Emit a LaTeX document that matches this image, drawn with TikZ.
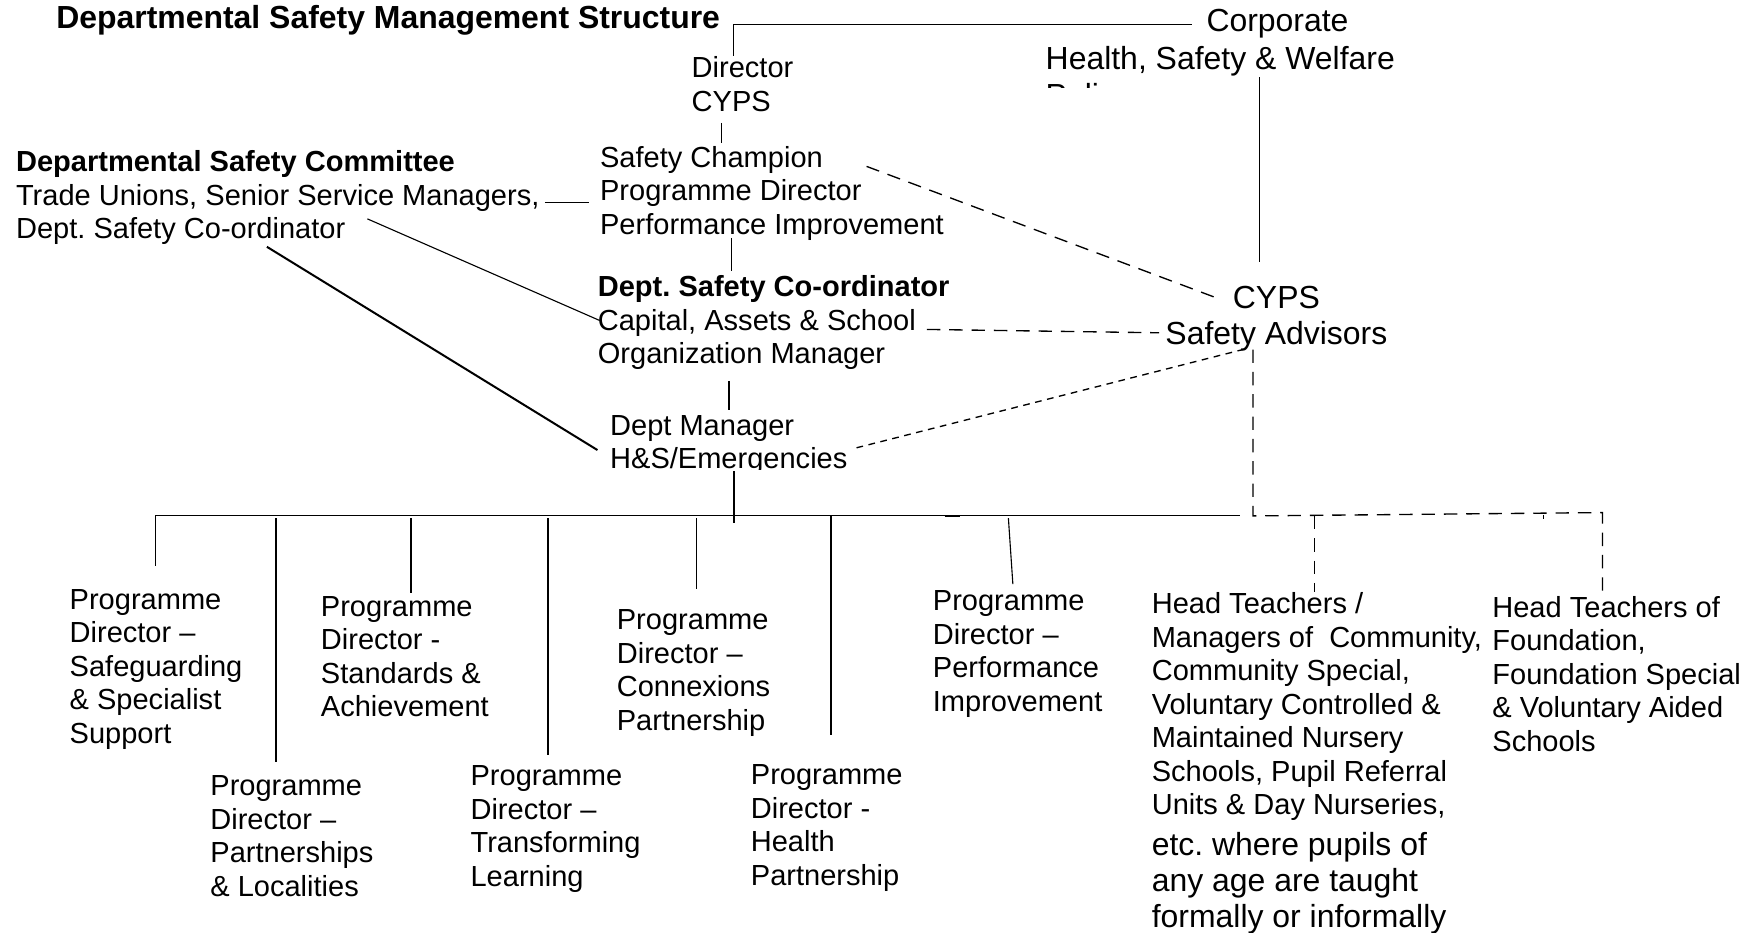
\documentclass[tikz,border=0pt]{standalone}
\usepackage{fontspec}
\setmainfont{Liberation Sans}
\frenchspacing
\begin{document}
\frenchspacing
\begin{tikzpicture}[x=0.5pt,y=-0.5pt,
  txt/.style={anchor=north west, inner sep=0pt, align=left, font=\fontsize{13}{15}\selectfont},
  big/.style={anchor=north west, inner sep=0pt, align=left, font=\fontsize{14.3}{16.5}\selectfont},
  bigc/.style={anchor=north, inner sep=0pt, align=center, font=\fontsize{14.3}{16}\selectfont},
  ttl/.style={anchor=north west, inner sep=0pt, font=\fontsize{14.3}{16}\selectfont\bfseries},
  ln/.style={line width=0.5pt},
  thk/.style={line width=0.9pt},
  dsh/.style={line width=0.6pt, dash pattern=on 6pt off 4pt},
  fdsh/.style={line width=0.6pt, dash pattern=on 3pt off 2.5pt}]
\useasboundingbox (0,0) rectangle (1568,835);

% ---- text nodes ----
\node[ttl] (title) at (50,4) {Departmental Safety Management Structure};
\node[txt] (dir) at (619,50.5) {Director\\CYPS};
\node[big] (corp) at (1080,8) {Corporate};
\begin{scope}
  \clip (900,30) rectangle (1300,78);
  \node[big] (hsw) at (936,41) {Health, Safety \& Welfare\\Policy};
\end{scope}
\node[txt] (dsc) at (14,134.5) {\textbf{Departmental Safety Committee}\\Trade Unions, Senior Service Managers,\\Dept. Safety Co-ordinator};
\node[txt] (champ) at (537,130.5) {Safety Champion\\Programme Director\\Performance Improvement};
\node[txt] (coord) at (535,246.5) {\textbf{Dept. Safety Co-ordinator}\\Capital, Assets \& School\\Organization Manager};
\node[bigc] (adv) at (1143,256) {CYPS\\Safety Advisors};
\begin{scope}
  \clip (530,360) rectangle (780,420.5);
  \node[txt] (mgr) at (546,371.5) {Dept Manager\\H\&S/Emergencies};
\end{scope}

\node[txt] (pa) at (62,527.5) {Programme\\Director \textendash\\Safeguarding\\\& Specialist\\Support};
\node[txt] (pb) at (188,694.5) {Programme\\Director \textendash\\Partnerships\\\& Localities};
\node[txt] (pc) at (287,533.5) {Programme\\Director -\\Standards \&\\Achievement};
\node[txt] (pd) at (421,685.5) {Programme\\Director \textendash\\Transforming\\Learning};
\node[txt] (pe) at (552,545.5) {Programme\\Director \textendash\\Connexions\\Partnership};
\node[txt] (pf) at (672,684.5) {Programme\\Director -\\Health\\Partnership};
\node[txt] (pg) at (835,528.5) {Programme\\Director \textendash\\Performance\\Improvement};
\node[txt] (ht) at (1031,530.5) {Head Teachers /\\Managers of\ \ Community,\\Community Special,\\Voluntary Controlled \&\\Maintained Nursery\\Schools, Pupil Referral\\Units \& Day Nurseries,};
\node[big, font=\fontsize{14.3}{16}\selectfont] (ht2) at (1031,745) {etc. where pupils of\\any age are taught\\formally or informally};
\node[txt] (hf) at (1336,533.5) {Head Teachers of\\Foundation,\\Foundation Special\\\& Voluntary Aided\\Schools};

% ---- connector end points ----
\coordinate (dirT) at (657,50);
\coordinate (corpL) at (1067,22);
\coordinate (hswB) at (1128,69);
\coordinate (advT) at (1128,235);
\coordinate (dirB) at (646,110);
\coordinate (champT) at (646,128);
\coordinate (champB) at (655,213);
\coordinate (coordT) at (655,243);
\coordinate (dscR) at (488,181);
\coordinate (champL) at (527,181);
\coordinate (dscA) at (329,196);
\coordinate (coordL) at (537,287);
\coordinate (dscB) at (239,221);
\coordinate (mgrL) at (535,403);
\coordinate (coordB) at (653,341);
\coordinate (mgrT) at (653,367);
\coordinate (champR) at (776,149);
\coordinate (advA) at (1090,267);
\coordinate (coordR) at (830,295);
\coordinate (advL) at (1038,298);
\coordinate (mgrR) at (767,401);
\coordinate (advB) at (1113,313);
\coordinate (advD) at (1122,313);
\coordinate (busR) at (1122,462);
\coordinate (busRR) at (1435,459);
\coordinate (hfT) at (1435,530);
\coordinate (htT) at (1177,530);
\coordinate (htJ) at (1177,462);
\coordinate (mgrB) at (657,422);
\coordinate (busJ) at (657,468);
\coordinate (busL) at (139,462);
\coordinate (busE) at (1110,462);

% ---- connectors ----
\draw[ln] (dirT) |- (corpL);
\draw[ln] (hswB) -- (advT);
\draw[ln] (dirB) -- (champT);
\draw[ln] (champB) -- (coordT);
\draw[ln] (dscR) -- (champL);
\draw[ln] (dscA) -- (coordL);
\draw[thk] (dscB) -- (mgrL);
\draw[thk] (coordB) -- (mgrT);
\draw[dsh] (champR) -- (advA);
\draw[dsh] (coordR) -- (advL);
\draw[fdsh] (mgrR) -- (advB);
\draw[dsh] (advD) -- (busR) -- (busRR) -- (hfT);
\draw[dsh] (htJ) -- (htT);
\draw[ln] (1382,461) -- (1382,465);
\draw[thk] (mgrB) -- (busJ);
\draw[ln] (busL) -- (busE);
\draw[ln] (846,462.8) -- (860,462.8);

\draw[ln] (busL) -- (139,507);
\draw[thk] (247,464) -- (247,682);
\draw[ln] (368,464) -- (368,531);
\draw[thk] (491,464) -- (491,676);
\draw[ln] (624,464) -- (624,527);
\draw[thk] (744,462) -- (744,658);
\draw[ln] (903,464) -- (907,523);
\end{tikzpicture}
\end{document}
